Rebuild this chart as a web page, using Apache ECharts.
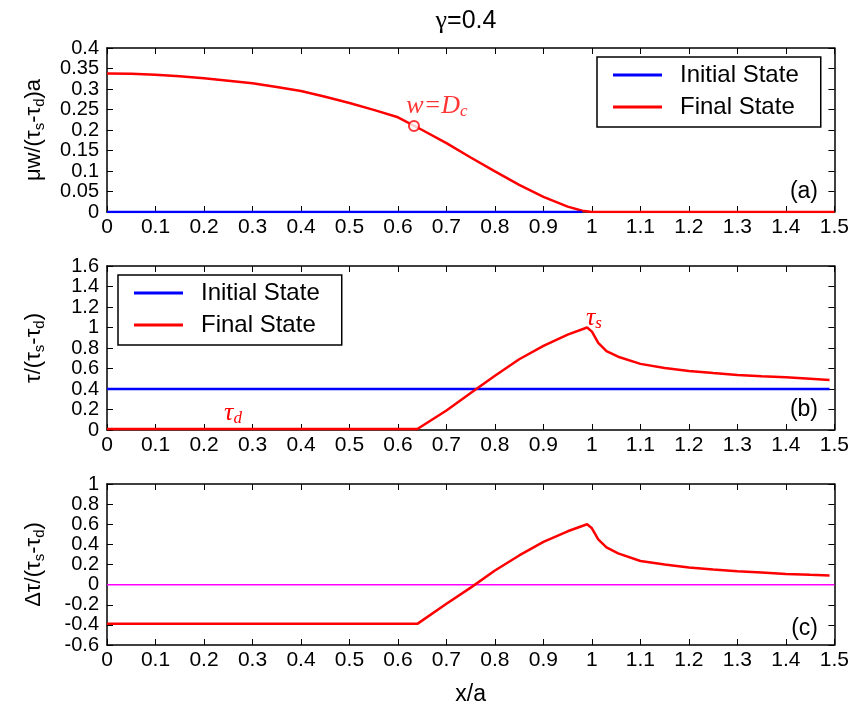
<!DOCTYPE html>
<html>
<head>
<meta charset="utf-8">
<script src="https://cdn.jsdelivr.net/npm/echarts@6/dist/echarts.min.js"></script>
<style>
  html, body { margin: 0; padding: 0; background: #fff; }
  #main { width: 852px; height: 707px; }
</style>
</head>
<body>
<div id="main"></div>
<script>
    // panel (a): slip w
    var xA = [0, 0.05, 0.1, 0.15, 0.2, 0.25, 0.3, 0.35, 0.4, 0.45, 0.5, 0.55, 0.6, 0.65, 0.7, 0.75, 0.8, 0.85, 0.9, 0.95, 0.98, 1.0, 1.5];
    var wFinal = [0.338, 0.337, 0.335, 0.331, 0.326, 0.320, 0.314, 0.305, 0.295, 0.281, 0.266, 0.249, 0.231, 0.200, 0.168, 0.133, 0.099, 0.066, 0.037, 0.013, 0.003, 0, 0];
    var xInitA = [0, 0.98];
    var wInit = [0, 0];
    var dcPoint = [0.633, 0.21];

    // panel (b): stress
    var xB = [0, 0.64, 0.7, 0.75, 0.8, 0.85, 0.9, 0.95, 0.99, 1.0, 1.013, 1.03, 1.054, 1.1, 1.15, 1.2, 1.25, 1.3, 1.35, 1.4, 1.45, 1.49];
    var tauFinal = [0.01, 0.01, 0.19, 0.36, 0.53, 0.69, 0.82, 0.93, 1.0, 0.96, 0.85, 0.77, 0.715, 0.645, 0.605, 0.576, 0.555, 0.537, 0.525, 0.514, 0.50, 0.488];
    var xInitB = [0, 1.49];
    var tauInit = [0.4, 0.4];

    // panel (c): stress change
    var dTau = [-0.39, -0.39, -0.19, -0.03, 0.14, 0.29, 0.425, 0.53, 0.60, 0.56, 0.45, 0.37, 0.31, 0.235, 0.2, 0.17, 0.15, 0.132, 0.12, 0.106, 0.097, 0.09];
    var xZero = [0, 1.5];
    var zeroLine = [0, 0];

    var pair = (xs, ys) => xs.map((x, i) => [x, ys[i]]);

    var FONT = 'Liberation Sans, Arial, sans-serif';
    var SERIF = 'Liberation Serif, Times New Roman, serif';
    var grids = [
        { left: 107, right: 15, top: 48, height: 164 },
        { left: 107, right: 15, top: 266, height: 164 },
        { left: 107, right: 15, top: 484, height: 166 }
    ];
    var yRanges = [[0, 0.4, 0.05], [0, 1.6, 0.2], [-0.6, 1, 0.2]];

    var sub = { fontSize: 15, fontFamily: FONT, padding: [12, 0, 0, 0] };
    var yNames = [
        '{a|μw/(τ}{s|s}{a|-τ}{s|d}{a|)a}',
        '{a|τ/(τ}{s|s}{a|-τ}{s|d}{a|)}',
        '{a|Δτ/(τ}{s|s}{a|-τ}{s|d}{a|)}'
    ];

    var xAxes = [], yAxes = [];
    grids.forEach(function (g, i) {
        var base = {
            gridIndex: i, type: 'value', min: 0, max: 1.5, interval: 0.1,
            axisLine: { onZero: false, lineStyle: { color: '#000', width: 1.5 } },
            axisTick: { inside: true, length: 6, lineStyle: { color: '#000', width: 1 } },
            splitLine: { show: false }
        };
        xAxes.push(Object.assign({}, base, {
            position: 'bottom',
            axisLabel: { color: '#000', fontSize: 21, fontFamily: FONT, margin: 5,
                formatter: v => String(+v.toFixed(2)) },
            name: i === 2 ? 'x/a' : '',
            nameLocation: 'middle', nameGap: 38,
            nameTextStyle: { color: '#000', fontSize: 23, fontFamily: FONT }
        }));
        xAxes.push(Object.assign({}, base, { position: 'top', axisLabel: { show: false } }));

        var r = yRanges[i];
        var ybase = {
            gridIndex: i, type: 'value', min: r[0], max: r[1], interval: r[2],
            axisLine: { onZero: false, lineStyle: { color: '#000', width: 1.5 } },
            axisTick: { inside: true, length: 6, lineStyle: { color: '#000', width: 1 } },
            splitLine: { show: false }
        };
        yAxes.push(Object.assign({}, ybase, {
            position: 'left',
            axisLabel: { color: '#000', fontSize: 20, fontFamily: FONT, margin: 8,
                formatter: v => String(+v.toFixed(2)) },
            name: yNames[i], nameLocation: 'middle', nameRotate: 90, nameGap: 60,
            nameTextStyle: { color: '#000', rich: { a: { fontSize: 22, fontFamily: FONT, color: '#000' }, s: sub } }
        }));
        yAxes.push(Object.assign({}, ybase, { position: 'right', axisLabel: { show: false } }));
    });

    function line(name, data, color, gi, z, w) {
        return {
            name: name, type: 'line', data: data, xAxisIndex: gi * 2, yAxisIndex: gi * 2,
            symbol: 'none', z: z, animation: false,
            lineStyle: { color: color, width: w || 2.5 }, itemStyle: { color: color }
        };
    }

    var legendBase = {
        orient: 'vertical', icon: 'rect', itemWidth: 49, itemHeight: 3, itemGap: 6,
        borderColor: '#000', borderWidth: 1.5, padding: [5, 22, 7, 16],
        textStyle: { color: '#000', fontSize: 24, fontFamily: FONT, lineHeight: 26, padding: [0, 0, 0, 13] },
        data: ['Initial State', 'Final State'], selectedMode: false
    };

    var option = {
        backgroundColor: '#fff',
        animation: false,
        grid: grids,
        xAxis: xAxes,
        yAxis: yAxes,
        legend: [
            Object.assign({}, legendBase, { left: 597, top: 57 }),
            Object.assign({}, legendBase, { left: 118, top: 275 })
        ],
        series: [
            line('Final State', pair(xA, wFinal), '#ff0000', 0, 2),
            line('Initial State', pair(xInitA, wInit), '#0000ff', 0, 3),
            {
                type: 'scatter', xAxisIndex: 0, yAxisIndex: 0, data: [dcPoint], z: 4,
                symbol: 'emptyCircle', symbolSize: 10, silent: true,
                itemStyle: { color: '#ff0000', borderColor: '#ff0000', borderWidth: 1.5 },
                label: {
                    show: true, position: 'top', distance: 0, offset: [23, 0],
                    formatter: '{i|w=D}{s|c}',
                    rich: {
                        i: { fontFamily: SERIF, fontStyle: 'italic', fontSize: 26, color: '#ff0000' },
                        s: { fontFamily: SERIF, fontStyle: 'italic', fontSize: 17, color: '#ff0000', padding: [10, 0, 0, 0] }
                    }
                }
            },
            line('Initial State', pair(xInitB, tauInit), '#0000ff', 1, 2),
            line('Final State', pair(xB, tauFinal), '#ff0000', 1, 3),
            line('', pair(xZero, zeroLine), '#ff00ff', 2, 2, 1.5),
            line('Final State', pair(xB, dTau), '#ff0000', 2, 3)
        ],
        graphic: [
            { type: 'text', x: 466, y: 21, style: { text: '{g|γ}{n|=0.4}', align: 'center', verticalAlign: 'middle',
                rich: { g: { fontFamily: SERIF, fontSize: 26, fill: '#000' },
                        n: { fontFamily: FONT, fontSize: 25, fill: '#000' } } } },
            { type: 'text', x: 818, y: 192, style: { text: '(a)', fontSize: 23, fontFamily: FONT, fill: '#000', align: 'right', verticalAlign: 'middle' } },
            { type: 'text', x: 818, y: 410, style: { text: '(b)', fontSize: 23, fontFamily: FONT, fill: '#000', align: 'right', verticalAlign: 'middle' } },
            { type: 'text', x: 818, y: 629, style: { text: '(c)', fontSize: 23, fontFamily: FONT, fill: '#000', align: 'right', verticalAlign: 'middle' } },
            { type: 'text', x: 233, y: 413, style: { text: '{t|τ}{s|d}', align: 'center', verticalAlign: 'middle',
                rich: { t: { fontFamily: SERIF, fontStyle: 'italic', fontSize: 26, fill: '#ff0000' },
                        s: { fontFamily: SERIF, fontStyle: 'italic', fontSize: 17, fill: '#ff0000', padding: [12, 0, 0, 0] } } } },
            { type: 'text', x: 594, y: 318, style: { text: '{t|τ}{s|s}', align: 'center', verticalAlign: 'middle',
                rich: { t: { fontFamily: SERIF, fontStyle: 'italic', fontSize: 26, fill: '#ff0000' },
                        s: { fontFamily: SERIF, fontStyle: 'italic', fontSize: 17, fill: '#ff0000', padding: [12, 0, 0, 0] } } } }
        ]
    };

    var chart = echarts.init(document.getElementById('main'));
    chart.setOption(option);
    window.addEventListener('resize', () => chart.resize());
</script>
</body>
</html>
